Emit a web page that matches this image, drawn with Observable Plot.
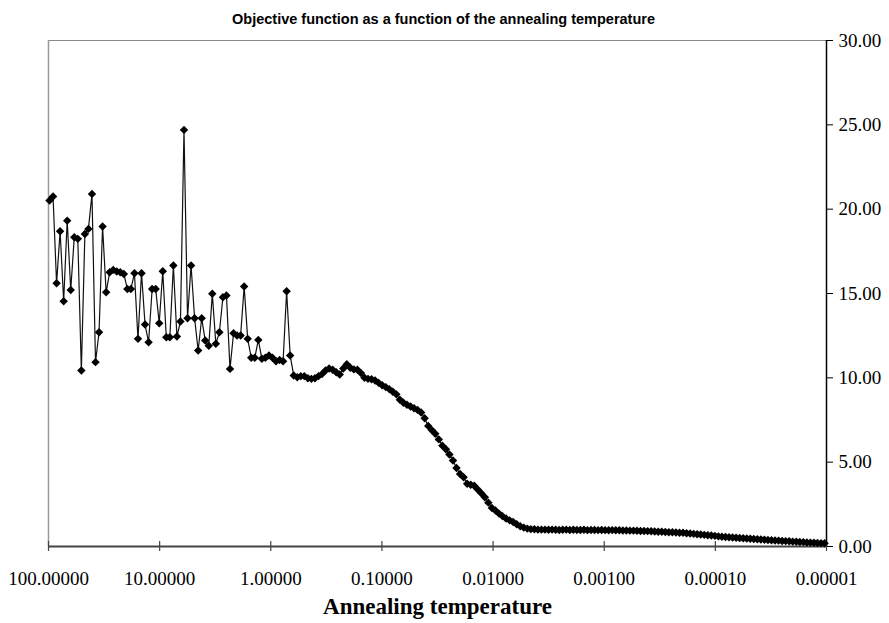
<!DOCTYPE html>
<html>
<head>
<meta charset="utf-8">
<script src="https://cdn.jsdelivr.net/npm/d3@7"></script>
<script src="https://cdn.jsdelivr.net/npm/@observablehq/plot@0.6"></script>
<style>
  html, body { margin: 0; padding: 0; background: #fff; }
  #chart { width: 889px; height: 623px; }
</style>
</head>
<body>
<div id="chart"></div>
<script>
// Annealing schedule (geometric cooling): starting temperature and cooling factor
const startTemperature = 97.95;
const coolingFactor = 0.9293;

// Objective function value at each temperature step
const objectiveValues = [
  20.51, 20.75, 15.61, 18.69, 14.54, 19.32, 15.21, 18.34, 18.24, 10.43,
  18.53, 18.83, 20.9, 10.93, 12.7, 18.97, 15.07, 16.26, 16.4, 16.3,
  16.26, 16.16, 15.27, 15.27, 16.2, 12.31, 16.2, 13.16, 12.11, 15.27,
  15.27, 13.24, 16.32, 12.41, 12.41, 16.66, 12.45, 13.34, 24.7, 13.53,
  16.66, 13.53, 11.62, 13.53, 12.21, 11.9, 14.98, 12.02, 12.7, 14.78,
  14.88, 10.53, 12.64, 12.51, 12.51, 15.41, 12.31, 11.19, 11.19, 12.25,
  11.13, 11.19, 11.32, 11.19, 10.98, 11.06, 10.98, 15.13, 11.32, 10.14,
  10.04, 10.1, 10.1, 9.98, 9.94, 9.98, 10.1, 10.22, 10.43, 10.55,
  10.48, 10.33, 10.2, 10.55, 10.8, 10.6, 10.5, 10.48, 10.28, 10.0,
  9.94, 9.92, 9.84, 9.7, 9.56, 9.45, 9.33, 9.18, 9.02, 8.7,
  8.52, 8.4, 8.3, 8.2, 8.1, 7.95, 7.6, 7.15, 6.9, 6.68,
  6.35, 5.98, 5.77, 5.45, 5.1, 4.65, 4.3, 4.11, 3.72, 3.66,
  3.6, 3.38, 3.16, 2.92, 2.6, 2.28, 2.13, 1.95, 1.8, 1.66,
  1.55, 1.45, 1.32, 1.2, 1.12, 1.06, 1.03, 1.02, 1.0, 1.0,
  1.0, 0.99, 1.0, 0.99, 0.98, 0.99, 1.0, 0.98, 0.99, 0.98,
  0.98, 0.99, 0.97, 0.98, 0.98, 0.97, 0.98, 0.97, 0.96, 0.97,
  0.96, 0.96, 0.95, 0.95, 0.94, 0.94, 0.93, 0.92, 0.92, 0.91,
  0.9, 0.89, 0.88, 0.87, 0.86, 0.85, 0.84, 0.83, 0.82, 0.81,
  0.79, 0.77, 0.75, 0.73, 0.71, 0.69, 0.67, 0.65, 0.63, 0.6,
  0.58, 0.56, 0.55, 0.53, 0.52, 0.5, 0.49, 0.47, 0.46, 0.45,
  0.43, 0.42, 0.4, 0.39, 0.37, 0.36, 0.35, 0.33, 0.32, 0.31,
  0.29, 0.28, 0.27, 0.26, 0.24, 0.23, 0.22, 0.21, 0.2, 0.19
];

const xTicks = [100, 10, 1, 0.1, 0.01, 0.001, 0.0001, 0.00001];
const yTicks = [0, 5, 10, 15, 20, 25, 30];
const titleText = "Objective function as a function of the annealing temperature";
const xLabelText = "Annealing temperature";

const data = objectiveValues.map((v, i) => ({
  temperature: startTemperature * Math.pow(coolingFactor, i),
  value: v
}));

const serif = "'Liberation Serif', 'Times New Roman', serif";
const sans = "'Liberation Sans', Arial, sans-serif";

const chart = Plot.plot({
  width: 889,
  height: 623,
  marginTop: 40,
  marginLeft: 48,
  marginRight: 63,
  marginBottom: 77,
  style: { fontFamily: serif, fontSize: "19px", color: "#000", background: "#fff" },
  x: { type: "log", domain: [100, 0.00001] },
  y: { domain: [0, 30] },
  marks: [
    // frame
    Plot.ruleY([30], { stroke: "#8a8a8a", strokeWidth: 1.2 }),
    Plot.ruleX([100], { stroke: "#9a9a9a", strokeWidth: 1.5 }),
    Plot.ruleX([0.00001], { stroke: "#000", strokeWidth: 1.5 }),
    Plot.ruleY([0], { stroke: "#444", strokeWidth: 2 }),
    // inner halves of crossing x ticks
    Plot.ruleX(xTicks, { x: d => d, y1: 0, y2: 0.3, stroke: "#444", strokeWidth: 1.2 }),
    Plot.axisX({
      ticks: xTicks,
      tickFormat: d => d.toFixed(5),
      tickSize: 5,
      tickPadding: 20,
      stroke: "#444",
      strokeWidth: 1.2,
      fontSize: 19,
      label: null
    }),
    Plot.axisY({
      anchor: "right",
      ticks: yTicks,
      tickFormat: d => d.toFixed(2),
      tickSize: 6,
      tickPadding: 6,
      fontSize: 19,
      label: null
    }),
    Plot.line(data, { x: "temperature", y: "value", stroke: "#111", strokeWidth: 1.2 }),
    Plot.dot(data, { x: "temperature", y: "value", symbol: "diamond2", r: 3.8, fill: "#000", stroke: "none" }),
    Plot.text([titleText], {
      frameAnchor: "top", dy: -27, dx: 6, text: d => d,
      fontFamily: sans, fontWeight: "bold", fontSize: 14.5, fill: "#000"
    }),
    Plot.text([xLabelText], {
      frameAnchor: "bottom", dy: 67, text: d => d,
      fontFamily: serif, fontWeight: "bold", fontSize: 23, fill: "#000"
    })
  ]
});

document.getElementById("chart").append(chart);
</script>
</body>
</html>
